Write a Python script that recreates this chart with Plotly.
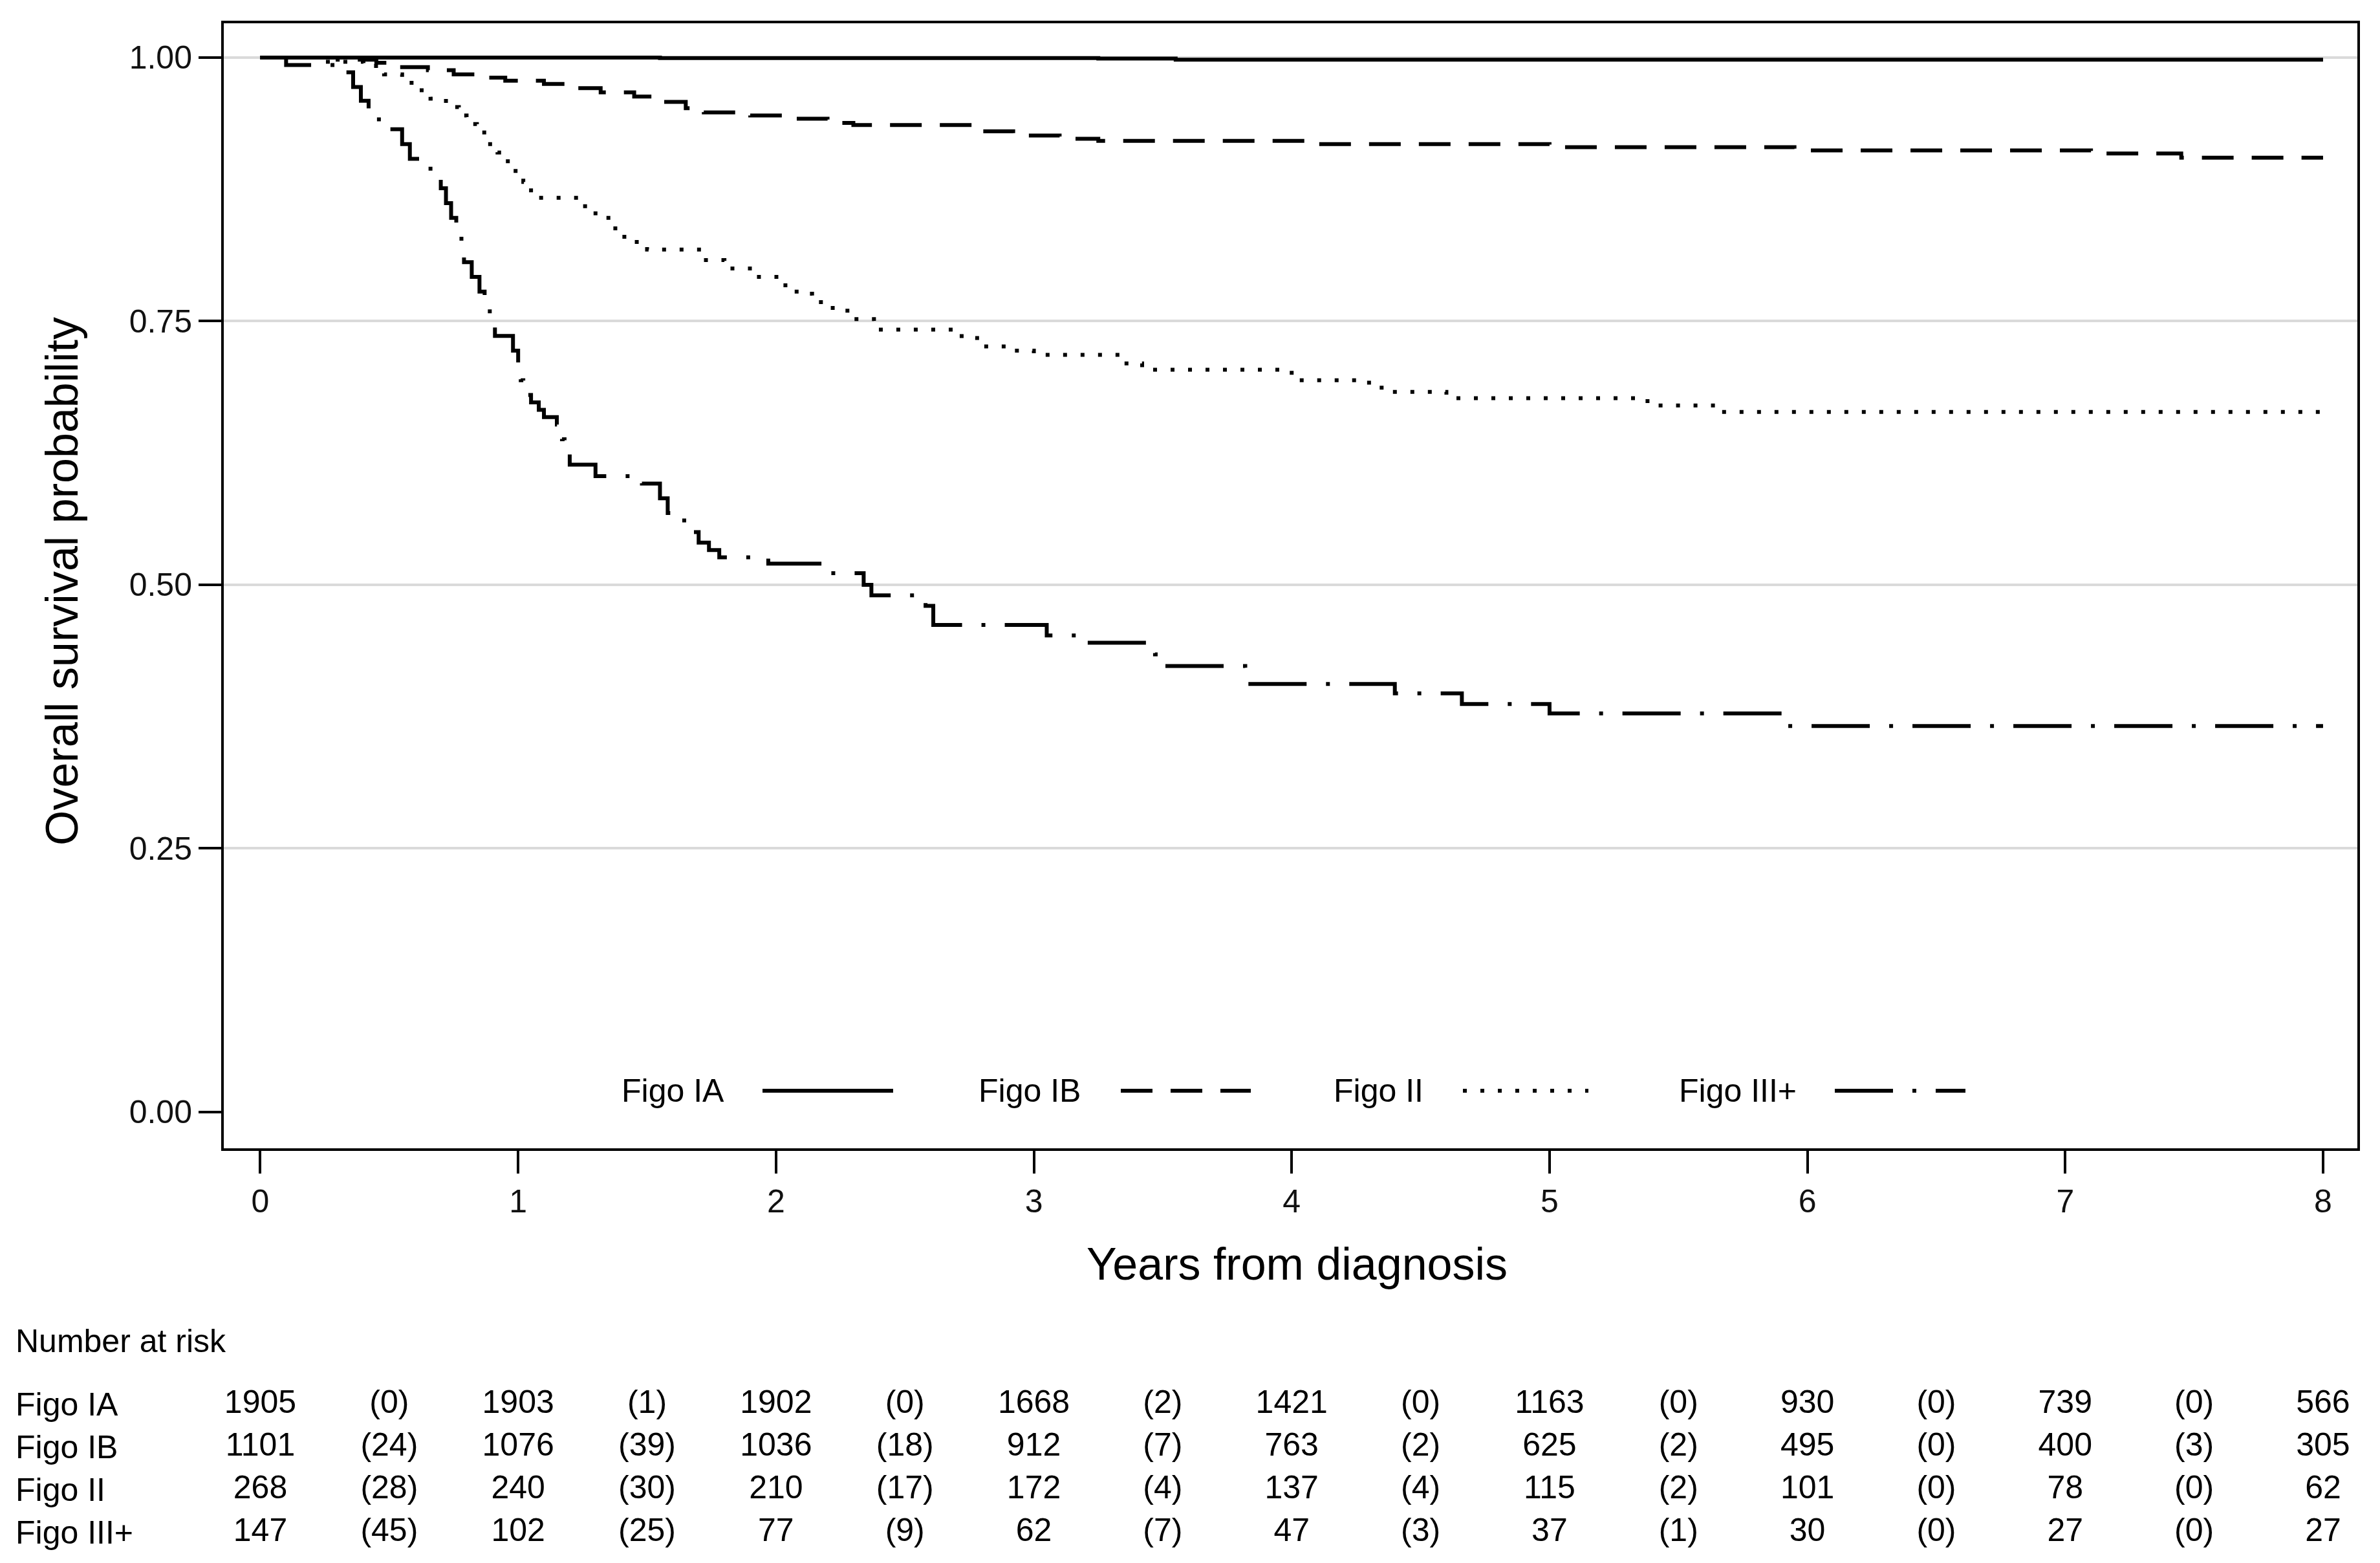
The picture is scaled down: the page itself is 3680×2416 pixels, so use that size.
import plotly.graph_objects as go

# ---------------- data ----------------
groups = ["Figo IA", "Figo IB", "Figo II", "Figo III+"]

ia_time = [0.0, 1.55, 3.25, 3.55, 8.0]
ia_surv = [1.0, 0.9995, 0.999, 0.998, 0.998]

ib_time = [0.0, 0.30, 0.45, 0.55, 0.65, 0.75, 0.85, 0.95, 1.10, 1.20,
           1.32, 1.45, 1.55, 1.65, 1.72, 1.90, 2.05, 2.20, 2.30, 2.80,
           2.92, 3.10, 3.25, 4.05, 5.00, 5.95, 7.10, 7.45, 8.0]
ib_surv = [1.0, 0.998, 0.995, 0.991, 0.988, 0.984, 0.981, 0.978, 0.975, 0.971,
           0.967, 0.963, 0.958, 0.952, 0.948, 0.945, 0.942, 0.938, 0.936, 0.930,
           0.926, 0.923, 0.921, 0.918, 0.915, 0.912, 0.909, 0.905, 0.905]

ii_time = [0.0, 0.25, 0.40, 0.48, 0.55, 0.60, 0.66, 0.72, 0.77, 0.80,
           0.84, 0.88, 0.92, 0.96, 0.99, 1.02, 1.05, 1.08, 1.24, 1.30,
           1.35, 1.40, 1.46, 1.50, 1.72, 1.80, 1.92, 2.02, 2.08, 2.14,
           2.22, 2.30, 2.38, 2.72, 2.78, 2.90, 3.00, 3.35, 3.42, 4.00,
           4.30, 4.38, 4.60, 5.38, 5.66, 8.0]
ii_surv = [1.0, 0.996, 0.992, 0.984, 0.976, 0.969, 0.961, 0.953, 0.945, 0.937,
           0.929, 0.918, 0.910, 0.898, 0.890, 0.882, 0.874, 0.867, 0.859, 0.850,
           0.838, 0.830, 0.822, 0.818, 0.808, 0.800, 0.792, 0.784, 0.776, 0.768,
           0.760, 0.752, 0.742, 0.734, 0.726, 0.722, 0.718, 0.710, 0.704, 0.694,
           0.687, 0.683, 0.677, 0.670, 0.664, 0.664]

iii_time = [0.0, 0.10, 0.33, 0.36, 0.39, 0.42, 0.46, 0.50, 0.55, 0.58,
            0.66, 0.70, 0.72, 0.74, 0.76, 0.78, 0.79, 0.82, 0.85, 0.87,
            0.89, 0.91, 0.98, 1.00, 1.01, 1.02, 1.05, 1.08, 1.10, 1.15,
            1.17, 1.18, 1.20, 1.30, 1.48, 1.55, 1.58, 1.63, 1.66, 1.70,
            1.74, 1.78, 1.97, 2.20, 2.34, 2.37, 2.58, 2.61, 3.05, 3.20,
            3.47, 3.50, 3.82, 4.40, 4.66, 5.00, 5.90, 8.0]
iii_surv = [1.0, 0.993, 0.986, 0.972, 0.959, 0.946, 0.939, 0.932, 0.918, 0.904,
            0.890, 0.876, 0.862, 0.848, 0.834, 0.820, 0.806, 0.792, 0.778, 0.764,
            0.750, 0.736, 0.722, 0.708, 0.694, 0.680, 0.673, 0.666, 0.659, 0.652,
            0.638, 0.624, 0.614, 0.603, 0.596, 0.582, 0.568, 0.561, 0.550, 0.540,
            0.533, 0.526, 0.520, 0.511, 0.500, 0.490, 0.480, 0.462, 0.452, 0.445,
            0.434, 0.423, 0.406, 0.397, 0.387, 0.378, 0.366, 0.366]

# Number-at-risk table
risk_years = [0, 1, 2, 3, 4, 5, 6, 7, 8]
ia_at_risk = [1905, 1903, 1902, 1668, 1421, 1163, 930, 739, 566]
ib_at_risk = [1101, 1076, 1036, 912, 763, 625, 495, 400, 305]
ii_at_risk = [268, 240, 210, 172, 137, 115, 101, 78, 62]
iii_at_risk = [147, 102, 77, 62, 47, 37, 30, 27, 27]
ia_events = [0, 1, 0, 2, 0, 0, 0, 0]
ib_events = [24, 39, 18, 7, 2, 2, 0, 3]
ii_events = [28, 30, 17, 4, 4, 2, 0, 0]
iii_events = [45, 25, 9, 7, 3, 1, 0, 0]

y_ticks = [0.0, 0.25, 0.5, 0.75, 1.0]
x_ticks = [0, 1, 2, 3, 4, 5, 6, 7, 8]

# ---------------- styling ----------------
W, H = 3680, 2416
ML, MR, MT, MB = 346, 35, 36, 0
PW = W - ML - MR
PH = H - MT - MB
FONT = "Liberation Sans, Arial, sans-serif"


def px_x(p):
    return (p - ML) / PW


def px_y(p):
    return 1 - (p - MT) / PH


dashes = ["solid", "49px,28px", "6px,21px", "90px,30px,6px,30px"]
curves = [(ia_time, ia_surv), (ib_time, ib_surv), (ii_time, ii_surv), (iii_time, iii_surv)]

fig = go.Figure()
for name, (t, s), d in zip(groups, curves, dashes):
    fig.add_trace(go.Scatter(x=t, y=s, mode="lines", name=name, line_shape="hv",
                             line=dict(color="black", width=6, dash=d),
                             showlegend=False, hoverinfo="skip"))

# risk table as text trace on its own y axis
tx, ty, tt = [], [], []
tables = [(ia_at_risk, ia_events), (ib_at_risk, ib_events),
          (ii_at_risk, ii_events), (iii_at_risk, iii_events)]
for row, (nr, ev) in enumerate(tables):
    for yr, n in zip(risk_years, nr):
        tx.append(yr); ty.append(row); tt.append(str(n))
    for yr, e in zip(risk_years[:-1], ev):
        tx.append(yr + 0.5); ty.append(row); tt.append(f"({e})")
fig.add_trace(go.Scatter(x=tx, y=ty, text=tt, mode="text", xaxis="x", yaxis="y2",
                         textposition="middle center", cliponaxis=False,
                         textfont=dict(family=FONT, size=50, color="black"),
                         showlegend=False, hoverinfo="skip"))

main_bottom = px_y(1775)
fig.update_layout(
    width=W, height=H, margin=dict(l=ML, r=MR, t=MT, b=MB, pad=0),
    plot_bgcolor="white", paper_bgcolor="white",
    font=dict(family=FONT, color="black"),
    xaxis=dict(domain=[0, 1], anchor="y", range=[-0.1417, 8.133],
               tickvals=x_ticks, ticktext=[str(v) for v in x_ticks],
               ticks="outside", ticklen=35, tickwidth=4, tickcolor="black",
               showline=True, linewidth=4, linecolor="black", mirror=True,
               showgrid=False, zeroline=False,
               tickfont=dict(family=FONT, size=50, color="#111111")),
    yaxis=dict(domain=[main_bottom, 1], anchor="x", range=[-0.0344, 1.0325],
               tickvals=y_ticks, ticktext=[f"{v:.2f}" for v in y_ticks],
               ticks="outside", ticklen=35, tickwidth=4, tickcolor="black",
               showline=True, linewidth=4, linecolor="black", mirror=True,
               showgrid=True, gridcolor="#dadada", gridwidth=4,
               zeroline=True, zerolinecolor="white", zerolinewidth=6,
               tickfont=dict(family=FONT, size=50, color="#111111")),
    yaxis2=dict(domain=[px_y(2402), px_y(2138)], anchor="free", position=0,
                range=[3.5, -0.5], visible=False),
)

ann = []
# axis titles
ann.append(dict(text="Overall survival probability", xref="paper", yref="y",
                x=px_x(96), y=0.503, xanchor="center", yanchor="middle",
                textangle=-90, showarrow=False,
                font=dict(family=FONT, size=70, color="black")))
ann.append(dict(text="Years from diagnosis", xref="x", yref="paper",
                x=4.02, y=px_y(1954), xanchor="center", yanchor="middle",
                showarrow=False, font=dict(family=FONT, size=70, color="black")))
# table header and row labels
ann.append(dict(text="Number at risk", xref="paper", yref="paper",
                x=px_x(22), y=px_y(2073), xanchor="left", yanchor="middle",
                showarrow=False, font=dict(family=FONT, size=50, color="black")))
for row, g in enumerate(groups):
    ann.append(dict(text=g, xref="paper", yref="y2", x=px_x(22), y=row,
                    xanchor="left", yanchor="middle", showarrow=False,
                    font=dict(family=FONT, size=50, color="black")))

# legend (text followed by line sample)
legend_y = px_y(1686)
legend_items = [(962, 1179, 1381), (1514, 1733, 1934), (2063, 2262, 2456), (2597, 2837, 3039)]
shapes = []
for g, (tx0, lx0, lx1), d in zip(groups, legend_items, dashes):
    ann.append(dict(text=g, xref="paper", yref="paper", x=px_x(tx0 - 3), y=legend_y,
                    xanchor="left", yanchor="middle", showarrow=False,
                    font=dict(family=FONT, size=50, color="black")))
    shapes.append(dict(type="line", xref="paper", yref="paper",
                       x0=px_x(lx0), x1=px_x(lx1), y0=legend_y, y1=legend_y,
                       line=dict(color="black", width=6, dash=d)))

fig.update_layout(annotations=ann, shapes=shapes)

fig.write_html("out.html", config={"displayModeBar": False},
               post_script="document.body.style.margin='0';document.body.style.overflow='hidden';")
